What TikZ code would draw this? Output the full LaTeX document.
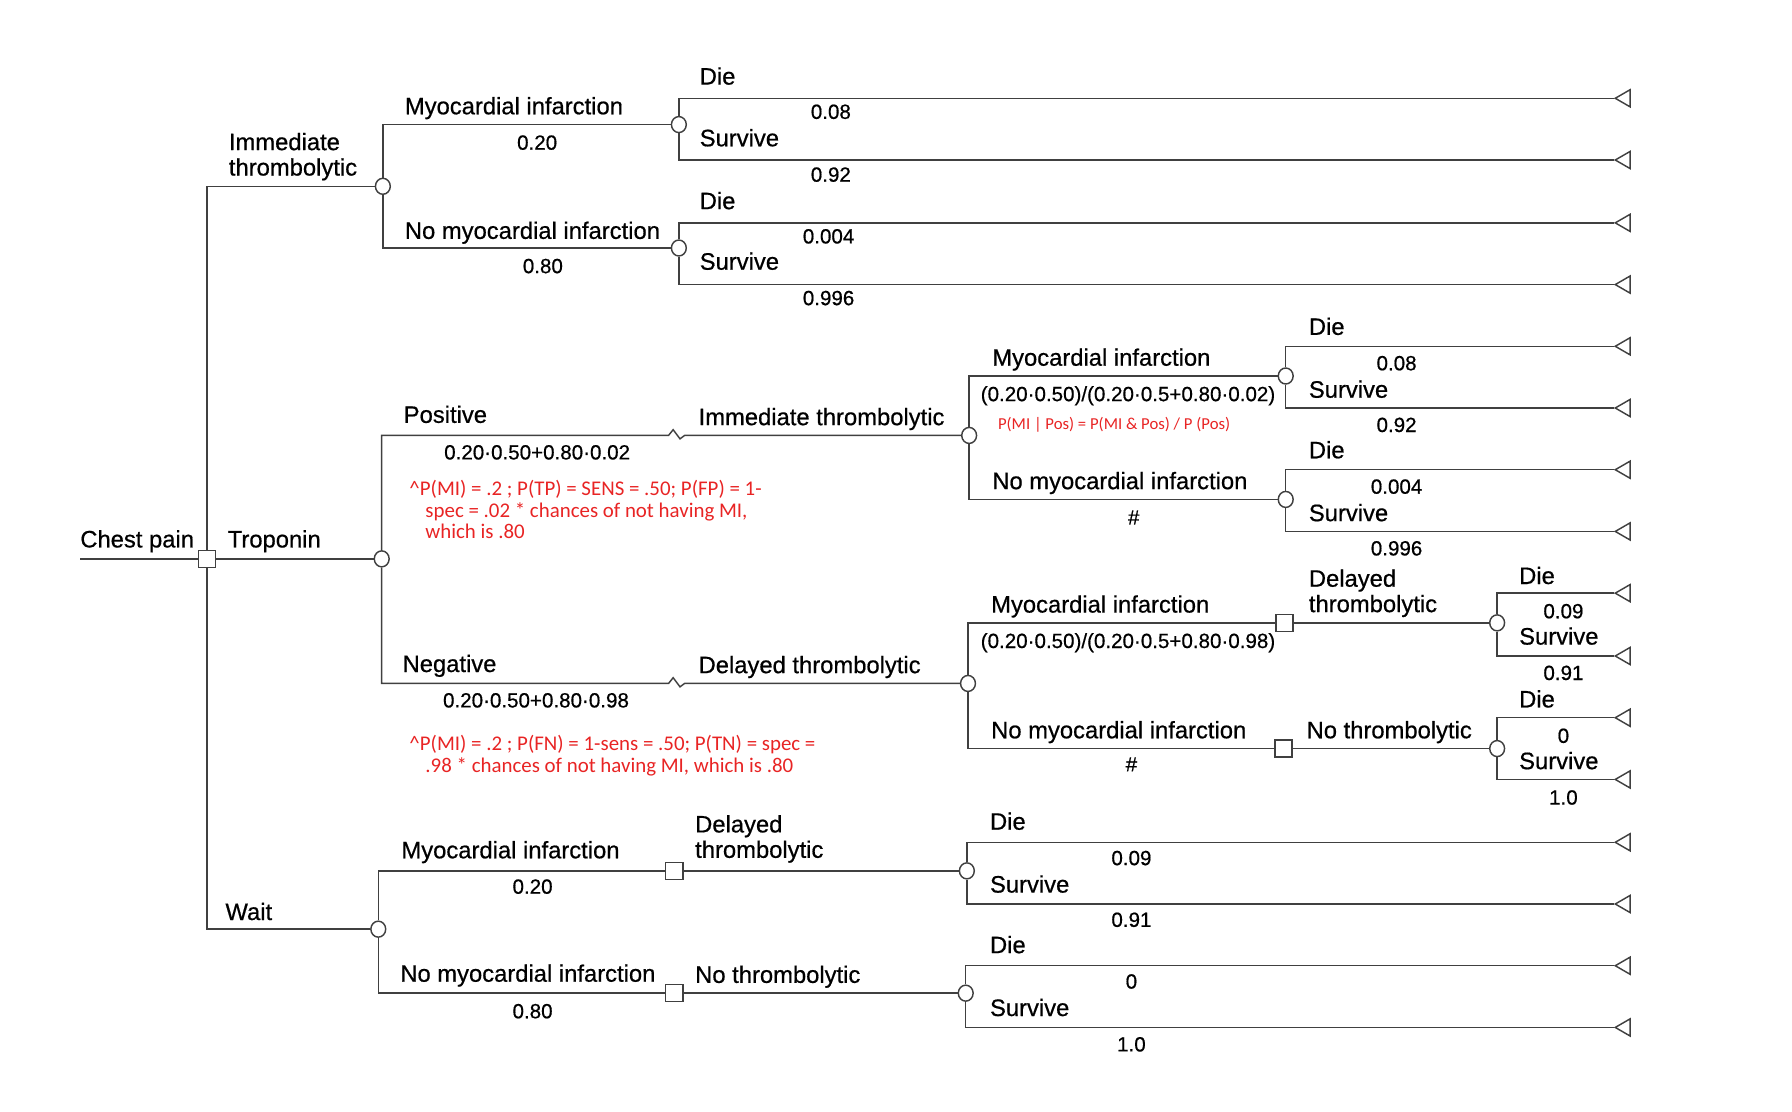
\documentclass[tikz,border=0pt]{standalone}
\usepackage{fontspec}
\setmainfont{Liberation Sans}[FakeBold=0.6]
\newfontfamily\calibrifont{Carlito}
\usepackage{tikz}
\usetikzlibrary{shapes.geometric, positioning}
\definecolor{notered}{RGB}{232,36,36}
\tikzset{
  chance/.style={ellipse, draw=black!75, line width=0.9pt, fill=white,
    minimum width=0.325cm, minimum height=0.35cm, inner sep=0pt},
  decision/.style={rectangle, draw=black!75, line width=0.9pt, fill=white,
    minimum size=0.375cm, inner sep=0pt},
  terminal/.style={regular polygon, regular polygon sides=3, shape border rotate=90,
    draw=black!75, line width=0.9pt, minimum size=0.433cm, inner sep=0pt},
  edge/.style={draw=black!75, line width=0.9pt},
  lab/.style={font=\fontsize{14.8}{15.8}\selectfont, inner sep=0pt, anchor=base west},
  twolab/.style={lab, anchor=north west, align=left},
  prob/.style={font=\fontsize{12.8}{14}\selectfont, inner sep=0pt, anchor=base},
  note/.style={font=\calibrifont\fontsize{13}{13.5}\selectfont, text=notered,
    inner sep=0pt, anchor=north west, align=left},
  smallnote/.style={font=\calibrifont\fontsize{10.4}{12}\selectfont, text=notered,
    inner sep=0pt, anchor=base west},
}

\begin{document}
\begin{tikzpicture}[x=0.025cm, y=-0.025cm]
  \useasboundingbox (0,0) rectangle (1568,973);

  % Root decision
  \coordinate (start) at (70,489);
  \node[decision] (root) at (181,489) {};
  \node[lab] (lchest) at (70,479) {Chest pain};
  \draw[edge] (start) -- (root);

  % Immediate thrombolytic arm
  \node[chance] (imm) at (335,163) {};
  \node[twolab] (limm) at (200,116) {Immediate\\thrombolytic};
  \draw[edge] (root) |- (imm);

  \node[chance] (immmi) at (594,109) {};
  \node[chance] (immno) at (594,217) {};
  \node[lab] (limmmi) at (354,100) {Myocardial infarction};
  \node[prob] (pimmmi) at (470,131) {0.20};
  \node[lab] (limmno) at (354,209) {No myocardial infarction};
  \node[prob] (pimmno) at (475,239) {0.80};
  \draw[edge] (imm) |- (immmi);
  \draw[edge] (imm) |- (immno);

  \node[terminal] (t1) at (1422,86) {};
  \node[terminal] (t2) at (1422,140) {};
  \node[lab] (ld1) at (612,74) {Die};
  \node[prob] (pd1) at (727,104) {0.08};
  \node[lab] (ls1) at (612,128) {Survive};
  \node[prob] (ps1) at (727,159) {0.92};
  \draw[edge] (immmi) |- (t1);
  \draw[edge] (immmi) |- (t2);

  \node[terminal] (t3) at (1422,195) {};
  \node[terminal] (t4) at (1422,249) {};
  \node[lab] (ld2) at (612,183) {Die};
  \node[prob] (pd2) at (725,213) {0.004};
  \node[lab] (ls2) at (612,236) {Survive};
  \node[prob] (ps2) at (725,267) {0.996};
  \draw[edge] (immno) |- (t3);
  \draw[edge] (immno) |- (t4);

  % Troponin arm
  \node[chance] (trop) at (334,489) {};
  \node[lab] (ltrop) at (199,479) {Troponin};
  \draw[edge] (root) -- (trop);

  \coordinate (brkpos) at (585,381);
  \coordinate (brkneg) at (585,598);
  \node[chance] (pos) at (848,381) {};
  \node[chance] (neg) at (847,598) {};
  \draw[edge] (trop) |- (brkpos) -- ++(4,-5) -- ++(6,8) -- ++(4,-3) -- (pos);
  \draw[edge] (trop) |- (brkneg) -- ++(4,-5) -- ++(6,8) -- ++(4,-3) -- (neg);

  \node[lab] (lpos) at (353,370) {Positive};
  \node[prob] (ppos) at (470,402) {0.20·0.50+0.80·0.02};
  \node[lab] (lposimm) at (611,372) {Immediate thrombolytic};
  \node[note] (npos) at (358,420) {\textasciicircum P(MI) = .2 ; P(TP) = SENS = .50; P(FP) = 1-\\
    \hspace*{0.35cm}spec = .02 * chances of not having MI,\\
    \hspace*{0.35cm}which is .80};

  \node[lab] (lneg) at (352,588) {Negative};
  \node[prob] (pneg) at (469,619) {0.20·0.50+0.80·0.98};
  \node[lab] (lnegdel) at (611,589) {Delayed thrombolytic};
  \node[note] (nneg) at (358,643) {\textasciicircum P(MI) = .2 ; P(FN) = 1-sens = .50; P(TN) = spec =\\
    \hspace*{0.35cm}.98 * chances of not having MI, which is .80};

  % Positive test
  \node[chance] (posmi) at (1125,329) {};
  \node[chance] (posno) at (1125,437) {};
  \node[lab] (lposmi) at (868,320) {Myocardial infarction};
  \node[prob] (pposmi) at (987,351) {(0.20·0.50)/(0.20·0.5+0.80·0.02)};
  \node[smallnote] (nposmi) at (873,376) {P(MI | Pos) = P(MI \& Pos) / P (Pos)};
  \node[lab] (lposno) at (868,428) {No myocardial infarction};
  \node[prob] (pposno) at (992,459) {\#};
  \draw[edge] (pos) |- (posmi);
  \draw[edge] (pos) |- (posno);

  \node[terminal] (t5) at (1422,303) {};
  \node[terminal] (t6) at (1422,357) {};
  \node[lab] (ld3) at (1145,293) {Die};
  \node[prob] (pd3) at (1222,324) {0.08};
  \node[lab] (ls3) at (1145,348) {Survive};
  \node[prob] (ps3) at (1222,378) {0.92};
  \draw[edge] (posmi) |- (t5);
  \draw[edge] (posmi) |- (t6);

  \node[terminal] (t7) at (1422,411) {};
  \node[terminal] (t8) at (1422,465) {};
  \node[lab] (ld4) at (1145,401) {Die};
  \node[prob] (pd4) at (1222,432) {0.004};
  \node[lab] (ls4) at (1145,456) {Survive};
  \node[prob] (ps4) at (1222,486) {0.996};
  \draw[edge] (posno) |- (t7);
  \draw[edge] (posno) |- (t8);

  % Negative test
  \node[decision] (negmi) at (1124,545) {};
  \node[decision] (negno) at (1123,655) {};
  \node[lab] (lnegmi) at (867,536) {Myocardial infarction};
  \node[prob] (pnegmi) at (987,567) {(0.20·0.50)/(0.20·0.5+0.80·0.98)};
  \node[lab] (lnegno) at (867,646) {No myocardial infarction};
  \node[prob] (pnegno) at (990,675) {\#};
  \draw[edge] (neg) |- (negmi);
  \draw[edge] (neg) |- (negno);

  \node[chance] (negdel) at (1310,545) {};
  \node[chance] (negnot) at (1310,655) {};
  \node[twolab] (lnegdel2) at (1145,498) {Delayed\\thrombolytic};
  \node[lab] (lnegnot) at (1143,646) {No thrombolytic};
  \draw[edge] (negmi) -- (negdel);
  \draw[edge] (negno) -- (negnot);

  \node[terminal] (t9) at (1422,519) {};
  \node[terminal] (t10) at (1422,574) {};
  \node[lab] (ld5) at (1329,511) {Die};
  \node[prob] (pd5) at (1368,541) {0.09};
  \node[lab] (ls5) at (1329,564) {Survive};
  \node[prob] (ps5) at (1368,595) {0.91};
  \draw[edge] (negdel) |- (t9);
  \draw[edge] (negdel) |- (t10);

  \node[terminal] (t11) at (1422,628) {};
  \node[terminal] (t12) at (1422,682) {};
  \node[lab] (ld6) at (1329,619) {Die};
  \node[prob] (pd6) at (1368,650) {0};
  \node[lab] (ls6) at (1329,673) {Survive};
  \node[prob] (ps6) at (1368,704) {1.0};
  \draw[edge] (negnot) |- (t11);
  \draw[edge] (negnot) |- (t12);

  % Wait arm
  \node[chance] (wait) at (331,813) {};
  \node[lab] (lwait) at (197,805) {Wait};
  \draw[edge] (root) |- (wait);

  \node[decision] (waitmi) at (590,762) {};
  \node[decision] (waitno) at (590,869) {};
  \node[lab] (lwaitmi) at (351,751) {Myocardial infarction};
  \node[prob] (pwaitmi) at (466,782) {0.20};
  \node[lab] (lwaitno) at (350,859) {No myocardial infarction};
  \node[prob] (pwaitno) at (466,891) {0.80};
  \draw[edge] (wait) |- (waitmi);
  \draw[edge] (wait) |- (waitno);

  \node[chance] (waitdel) at (846,762) {};
  \node[chance] (waitnot) at (845,869) {};
  \node[twolab] (lwaitdel) at (608,713) {Delayed\\thrombolytic};
  \node[lab] (lwaitnot) at (608,860) {No thrombolytic};
  \draw[edge] (waitmi) -- (waitdel);
  \draw[edge] (waitno) -- (waitnot);

  \node[terminal] (t13) at (1422,737) {};
  \node[terminal] (t14) at (1422,791) {};
  \node[lab] (ld7) at (866,726) {Die};
  \node[prob] (pd7) at (990,757) {0.09};
  \node[lab] (ls7) at (866,781) {Survive};
  \node[prob] (ps7) at (990,811) {0.91};
  \draw[edge] (waitdel) |- (t13);
  \draw[edge] (waitdel) |- (t14);

  \node[terminal] (t15) at (1422,845) {};
  \node[terminal] (t16) at (1422,899) {};
  \node[lab] (ld8) at (866,834) {Die};
  \node[prob] (pd8) at (990,865) {0};
  \node[lab] (ls8) at (866,889) {Survive};
  \node[prob] (ps8) at (990,920) {1.0};
  \draw[edge] (waitnot) |- (t15);
  \draw[edge] (waitnot) |- (t16);
\end{tikzpicture}
\end{document}
